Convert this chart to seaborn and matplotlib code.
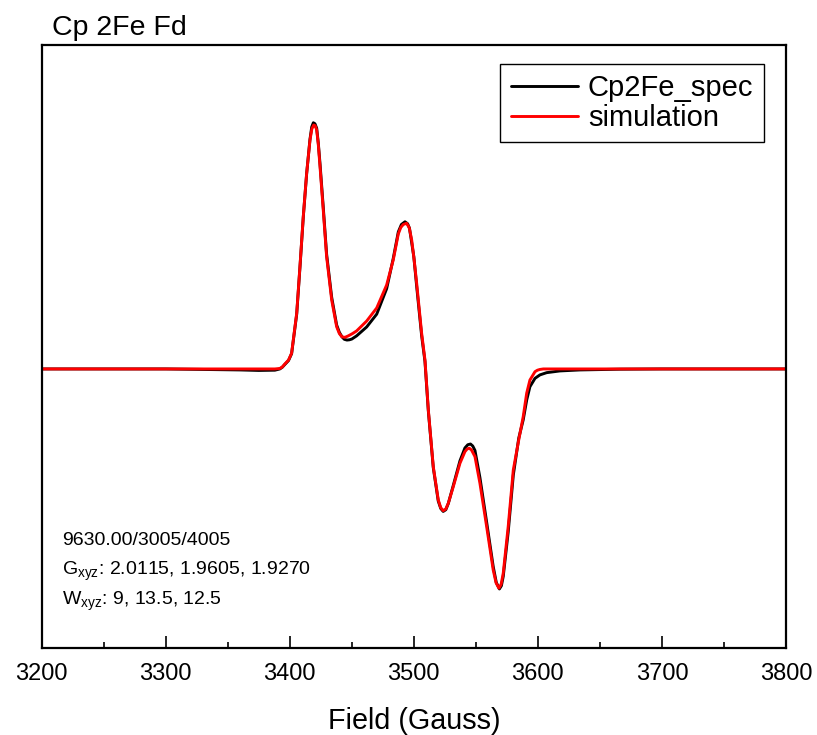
import numpy as np
import pandas as pd
import seaborn as sns
from matplotlib import pyplot as plt
from matplotlib.ticker import MultipleLocator

# values (field in Gauss, intensity in arb. units)
spec_field = [3200, 3300, 3360, 3375, 3388, 3392, 3394, 3396, 3399, 3401.5,
              3405.6, 3408.2, 3410.9, 3413.6, 3416.3, 3417.7, 3419.0, 3420.3, 3421.7, 3423.0,
              3424.4, 3427.0, 3429.7, 3433.8, 3437.8, 3440.0, 3442.1, 3444.0, 3446.1, 3448.0,
              3450.0, 3453.9, 3462.0, 3470.1, 3478.1, 3483.4, 3487.5, 3490.0, 3492.9, 3495.0,
              3496.5, 3500.0, 3502.3, 3506.3, 3509.0, 3511.7, 3515.7, 3519.7, 3521.7, 3523.7,
              3525.8, 3527.8, 3531.8, 3537.2, 3541.2, 3543.5, 3545.7, 3547.5, 3549.3, 3553.3,
              3558.7, 3564.0, 3566.5, 3569.0, 3570.6, 3572.1, 3576.1, 3580.2, 3584.6, 3588.2,
              3591.0, 3593.6, 3597.7, 3601.7, 3607.1, 3617.8, 3633.9, 3666.2, 3700, 3800]
spec_intensity = [0, 0, -0.004, -0.006, -0.005, 0.0, 0.007, 0.018, 0.034, 0.062,
                  0.222, 0.41, 0.615, 0.79, 0.93, 0.98, 0.997, 0.993, 0.975, 0.915,
                  0.83, 0.655, 0.465, 0.29, 0.178, 0.148, 0.130, 0.120, 0.117, 0.118,
                  0.121, 0.134, 0.170, 0.222, 0.325, 0.447, 0.555, 0.585, 0.596, 0.588,
                  0.570, 0.455, 0.335, 0.135, 0.03, -0.17, -0.40, -0.535, -0.565, -0.577,
                  -0.570, -0.545, -0.472, -0.372, -0.320, -0.307, -0.304, -0.312, -0.33, -0.44,
                  -0.62, -0.80, -0.865, -0.891, -0.878, -0.84, -0.66, -0.43, -0.28, -0.206,
                  -0.126, -0.072, -0.038, -0.024, -0.015, -0.008, -0.004, -0.001, 0, 0]

sim_field = [3200, 3300, 3388, 3392, 3394, 3396, 3399, 3401.5, 3405.6, 3408.2,
             3410.9, 3413.6, 3416.3, 3417.8, 3419.3, 3420.5, 3421.7, 3423.0, 3424.4, 3427.0,
             3429.7, 3433.8, 3437.8, 3440.0, 3442.1, 3444.5, 3447.2, 3450.5, 3453.9, 3462.0,
             3470.1, 3478.1, 3483.4, 3487.5, 3489.5, 3491.5, 3494.2, 3496.3, 3498.3, 3500.3,
             3502.3, 3506.3, 3509.0, 3511.7, 3515.7, 3519.7, 3521.7, 3523.7, 3525.8, 3527.8,
             3531.8, 3537.2, 3541.2, 3543.0, 3544.7, 3546.5, 3549.3, 3553.3, 3558.7, 3564.0,
             3566.3, 3568.6, 3570.4, 3572.1, 3576.1, 3580.2, 3584.6, 3588.2, 3591.0, 3593.6,
             3597.7, 3599.7, 3601.7, 3604.4, 3700, 3800]
sim_intensity = [0, 0, 0, 0.002, 0.008, 0.02, 0.036, 0.064, 0.226, 0.414,
                 0.617, 0.792, 0.927, 0.972, 0.988, 0.985, 0.968, 0.91, 0.819, 0.644,
                 0.455, 0.279, 0.171, 0.143, 0.130, 0.128, 0.134, 0.143, 0.154, 0.194,
                 0.247, 0.340, 0.441, 0.547, 0.573, 0.585, 0.590, 0.572, 0.522, 0.44,
                 0.347, 0.145, 0.036, -0.166, -0.396, -0.530, -0.562, -0.574, -0.567, -0.544,
                 -0.477, -0.382, -0.335, -0.324, -0.321, -0.328, -0.355, -0.463, -0.638, -0.814,
                 -0.866, -0.888, -0.872, -0.827, -0.638, -0.409, -0.287, -0.193, -0.098, -0.045,
                 -0.011, -0.005, -0.002, 0, 0, 0]

x_ticks = [3200, 3300, 3400, 3500, 3600, 3700, 3800]

sns.set_theme(style='white', rc={'text.color': 'black', 'axes.labelcolor': 'black',
                                 'xtick.color': 'black', 'ytick.color': 'black',
                                 'axes.edgecolor': 'black'})
plt.rcParams['font.family'] = ['Liberation Sans', 'DejaVu Sans']
plt.rcParams['mathtext.fontset'] = 'custom'
plt.rcParams['mathtext.rm'] = 'Liberation Sans'
plt.rcParams['mathtext.it'] = 'Liberation Sans'

df_spec = pd.DataFrame({'field': spec_field, 'intensity': spec_intensity})
df_sim = pd.DataFrame({'field': sim_field, 'intensity': sim_intensity})

fig = plt.figure(figsize=(8.17, 7.35), dpi=100)
ax = fig.add_axes([0.051, 0.1184, 0.911, 0.8204])

sns.lineplot(x='field', y='intensity', data=df_spec, color='black', lw=2.1,
             label='Cp2Fe_spec', ax=ax, estimator=None, sort=False)
sns.lineplot(x='field', y='intensity', data=df_sim, color='#ff0000', lw=2.1,
             label='simulation', ax=ax, estimator=None, sort=False)

ax.set_xlim(3200, 3800)
ax.set_ylim(-1.130, 1.312)
ax.set_xticks(x_ticks)
ax.xaxis.set_minor_locator(MultipleLocator(50))
ax.set_yticks([])
ax.set_ylabel('')
ax.set_xlabel('Field (Gauss)', fontsize=20.7, labelpad=16)
ax.tick_params(axis='x', which='major', direction='in', length=8.5, width=1.2,
               labelsize=17, pad=11, bottom=True, color='black')
ax.tick_params(axis='x', which='minor', direction='in', length=4, width=1.2, bottom=True, color='black')
for sp in ax.spines.values():
    sp.set_visible(True)
    sp.set_color('black')
    sp.set_linewidth(1.6)

ax.text(0.0134, 1.0166, 'Cp 2Fe Fd', transform=ax.transAxes, fontsize=20.5,
        ha='left', va='baseline')

ax.text(0.0273, 0.1708, '9630.00/3005/4005', transform=ax.transAxes, fontsize=14, va='baseline')
ax.text(0.0273, 0.121, r'G$_{\mathrm{xyz}}$: 2.0115, 1.9605, 1.9270', transform=ax.transAxes,
        fontsize=14, va='baseline')
ax.text(0.0273, 0.0713, r'W$_{\mathrm{xyz}}$: 9, 13.5, 12.5', transform=ax.transAxes,
        fontsize=14, va='baseline')

leg = ax.legend(loc='upper right', bbox_to_anchor=(0.9704, 0.9685), borderaxespad=0,
                fontsize=21, frameon=True, fancybox=False, handlelength=2.3,
                handletextpad=0.34, labelspacing=0.05, borderpad=0.36)
leg.get_frame().set_edgecolor('black')
leg.get_frame().set_linewidth(1.0)
leg.get_frame().set_alpha(1)

plt.savefig('out.png', dpi=100)
